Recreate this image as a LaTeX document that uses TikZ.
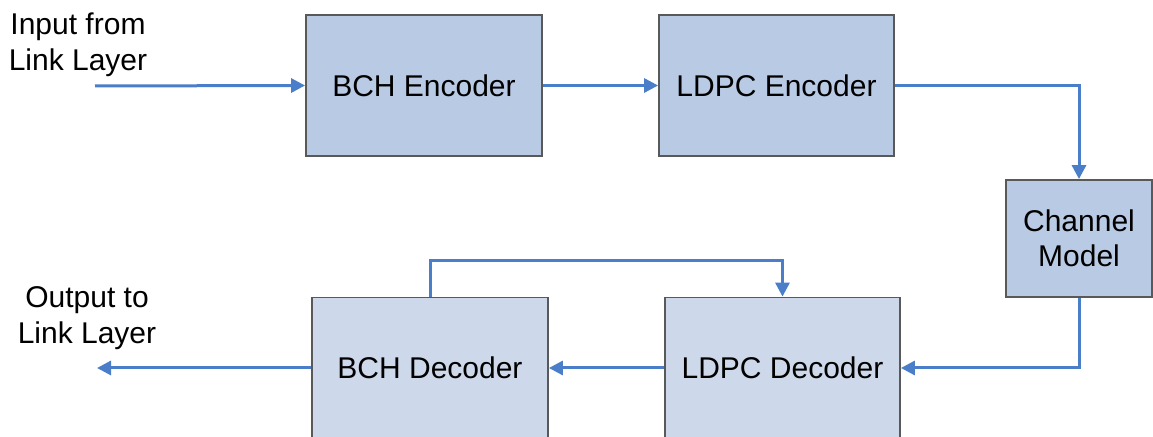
\documentclass[tikz,border=0pt]{standalone}
\usepackage{fontspec}
\setmainfont{Liberation Sans}
\usetikzlibrary{arrows.meta}
\definecolor{encfill}{HTML}{B9CAE4}
\definecolor{decfill}{HTML}{CDD8EA}
\definecolor{flow}{HTML}{4A7EC8}
\definecolor{edge}{HTML}{595959}
\begin{document}
\begin{tikzpicture}[x=0.5pt,y=-0.5pt,
  font=\fontsize{15pt}{18pt}\selectfont,
  block/.style={draw=edge,line width=0.9pt,inner sep=0pt,align=center,
                minimum height=70.5pt},
  enc/.style={block,fill=encfill},
  dec/.style={block,fill=decfill},
  flowline/.style={draw=flow,line width=1.5pt,
                   -{Triangle[length=7pt,width=7pt]}},
  lbl/.style={align=center,inner sep=0pt}]
\clip (0,0) rectangle (1153,437);

% encoder chain
\node[enc,minimum width=118pt] (bchenc) at (424,85.5) {BCH Encoder};
\node[enc,minimum width=117.5pt] (ldpcenc) at (776.5,85.5) {LDPC Encoder};
\node[enc,minimum width=73pt,minimum height=58.5pt] (chan) at (1079,238.5)
  {Channel\\[-0.5pt]Model};

% decoder chain
\node[dec,minimum width=118pt] (bchdec) at (430,368) {BCH Decoder};
\node[dec,minimum width=117.5pt] (ldpcdec) at (782.5,368) {LDPC Decoder};

% side labels
\node[lbl] (inlbl) at (78,45) {Input from\\Link Layer};
\node[lbl] (outlbl) at (87,318) {Output to\\Link Layer};
\coordinate (insrc) at (95,86);
\coordinate (outdst) at (97,368);

% connectors
\draw[flowline] (insrc) -- (bchenc.west);
\draw[flowline] (bchenc.east) -- (ldpcenc.west);
\draw[flowline] (ldpcenc.east) -| (chan.north);
\draw[flowline] (chan.south) |- (ldpcdec.east);
\draw[flowline] (ldpcdec.west) -- (bchdec.east);
\draw[flowline] (bchdec.west) -- (outdst);
\draw[flowline] (bchdec.north) -- ++(0,-36) -| (ldpcdec.north);
\end{tikzpicture}
\end{document}
